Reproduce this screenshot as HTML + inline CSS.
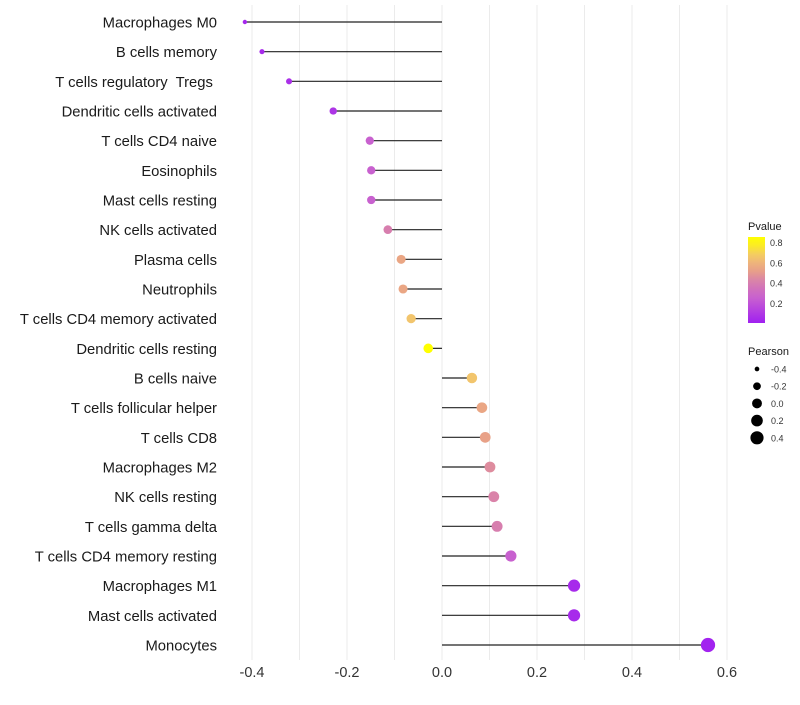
<!DOCTYPE html>
<html><head><meta charset="utf-8"><style>
body{margin:0;background:#fff;}
svg text{font-family:"Liberation Sans",sans-serif;white-space:pre;}
</style></head><body>
<svg id="c" width="800" height="700"></svg>
<script>
const categories=["Macrophages M0","B cells memory","T cells regulatory  Tregs ","Dendritic cells activated","T cells CD4 naive","Eosinophils","Mast cells resting","NK cells activated","Plasma cells","Neutrophils","T cells CD4 memory activated","Dendritic cells resting","B cells naive","T cells follicular helper","T cells CD8","Macrophages M2","NK cells resting","T cells gamma delta","T cells CD4 memory resting","Macrophages M1","Mast cells activated","Monocytes"];
const pearson=[-0.415,-0.379,-0.322,-0.229,-0.152,-0.149,-0.149,-0.114,-0.086,-0.082,-0.065,-0.029,0.063,0.084,0.091,0.101,0.109,0.116,0.145,0.278,0.278,0.56];
const pvalue=[0.03,0.04,0.06,0.08,0.25,0.25,0.25,0.4,0.54,0.54,0.66,0.82,0.66,0.54,0.52,0.45,0.42,0.4,0.25,0.04,0.04,0.01];
const xTicks=[-0.4,-0.2,0.0,0.2,0.4,0.6];
const pTicks=[0.2,0.4,0.6,0.8];
const sizeTicks=[-0.4,-0.2,0.0,0.2,0.4];
const NS="http://www.w3.org/2000/svg";
const svg=document.getElementById('c');
function el(t,a,p){const e=document.createElementNS(NS,t);for(const k in a)e.setAttribute(k,a[k]);(p||svg).appendChild(e);return e;}
const x=v=>442+v*475;
const y=i=>22+i*(623/21);
const pMax=0.82;
const stops=[[0,[160,32,240]],[0.3,[200,96,208]],[0.5,[216,128,172]],[0.63,[232,160,136]],[0.8,[242,196,112]],[1,[255,255,0]]];
function col(p){let t=Math.max(0,Math.min(1,p/pMax));for(let i=1;i<stops.length;i++){if(t<=stops[i][0]){const a=stops[i-1],b=stops[i];const f=(t-a[0])/(b[0]-a[0]);const c=a[1].map((v,j)=>Math.round(v+(b[1][j]-v)*f));return `rgb(${c})`;}}return 'rgb(255,255,0)';}
const r=v=>Math.sqrt(Math.max(1,24.4+47.2*v));
for(let g=-0.4;g<=0.61;g+=0.1){const l=el('line',{x1:x(g),x2:x(g),y1:5,y2:660,stroke:'#ebebeb','stroke-width':1});
}
xTicks.forEach(t=>{const tx=el('text',{x:x(t),y:677,'text-anchor':'middle','font-size':14.5,fill:'#333'});tx.textContent=t.toFixed(1);
});
categories.forEach((c,i)=>{
 const t=el('text',{x:217,y:y(i)+5.5,'text-anchor':'end','font-size':14.8,fill:'#1a1a1a'});t.textContent=c;
 
 const l=el('line',{x1:x(0),x2:x(pearson[i]),y1:y(i),y2:y(i),stroke:'#222','stroke-width':1.2});
 
 const d=el('circle',{cx:x(pearson[i]),cy:y(i),r:r(pearson[i]),fill:col(pvalue[i])});
 
});
const lt=el('text',{x:748,y:230,'font-size':11,fill:'#1a1a1a'});lt.textContent='Pvalue';

const defs=el('defs',{});const gr=el('linearGradient',{id:'pg',x1:0,y1:1,x2:0,y2:0},defs);
for(let k=0;k<=10;k++){el('stop',{offset:k/10,'stop-color':col(k/10*0.85)},gr);}
const cb=el('rect',{x:748,y:237,width:17,height:86,fill:'url(#pg)'});

const py=p=>323-p/0.85*86;
pTicks.forEach(p=>{const t=el('text',{x:770,y:py(p)+4,'font-size':9,fill:'#333'});t.textContent=p.toFixed(1);
});
const st=el('text',{x:748,y:355,'font-size':11,fill:'#1a1a1a'});st.textContent='Pearson';

sizeTicks.forEach((s,i)=>{const cy=369+i*17.2;
 const c=el('circle',{cx:757,cy:cy,r:r(s),fill:'#000'});
 const t=el('text',{x:771,y:cy+3.5,'font-size':9,fill:'#333'});t.textContent=s.toFixed(1);
 });
</script>
</body></html>
